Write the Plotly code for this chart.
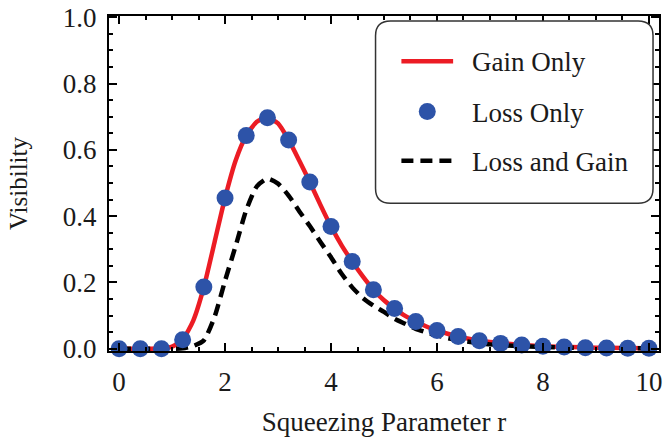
import plotly.graph_objects as go

# ---------------- data ----------------
r_curve = [0.0, 0.2, 0.4, 0.6, 0.8, 1.0, 1.2, 1.4, 1.6, 1.8, 2.0, 2.2, 2.4, 2.6, 2.8,
           3.0, 3.2, 3.4, 3.6, 3.8, 4.0, 4.2, 4.4, 4.6, 4.8, 5.0, 5.2, 5.4, 5.6, 5.8,
           6.0, 6.2, 6.4, 6.6, 6.8, 7.0, 7.5, 8.0, 8.5, 9.0, 9.5, 10.0]
gain_only = [0.0, 0.0, 0.0, 0.0, 0.001, 0.006, 0.027, 0.085, 0.186, 0.320, 0.455, 0.568,
             0.643, 0.685, 0.697, 0.680, 0.630, 0.568, 0.503, 0.434, 0.369, 0.312, 0.263,
             0.218, 0.178, 0.146, 0.121, 0.099, 0.082, 0.067, 0.055, 0.045, 0.037, 0.030,
             0.024, 0.020, 0.013, 0.007, 0.005, 0.003, 0.002, 0.001]
loss_and_gain = [0.0, 0.0, 0.0, 0.0, 0.0, 0.0, 0.001, 0.008, 0.025, 0.095, 0.205, 0.310,
                 0.418, 0.490, 0.513, 0.498, 0.462, 0.415, 0.370, 0.322, 0.276, 0.226,
                 0.185, 0.153, 0.130, 0.111, 0.090, 0.075, 0.060, 0.049, 0.040, 0.032,
                 0.026, 0.021, 0.017, 0.013, 0.008, 0.005, 0.003, 0.002, 0.001, 0.001]

r_dots = [0.0, 0.4, 0.8, 1.2, 1.6, 2.0, 2.4, 2.8, 3.2, 3.6, 4.0, 4.4, 4.8, 5.2, 5.6,
          6.0, 6.4, 6.8, 7.2, 7.6, 8.0, 8.4, 8.8, 9.2, 9.6, 10.0]
loss_only = [0.0, 0.0, 0.0, 0.027, 0.186, 0.455, 0.643, 0.697, 0.630, 0.503, 0.369, 0.263,
             0.178, 0.121, 0.082, 0.055, 0.037, 0.024, 0.016, 0.011, 0.007, 0.005, 0.003,
             0.002, 0.001, 0.001]

series_names = ["Gain Only", "Loss Only", "Loss and Gain"]
x_ticks = [0, 2, 4, 6, 8, 10]
y_ticks = [0.0, 0.2, 0.4, 0.6, 0.8, 1.0]
y_ticklabels = ["0.0", "0.2", "0.4", "0.6", "0.8", "1.0"]

# ---------------- styling ----------------
RED = "#EC1C24"
BLUE = "#2D53A8"
FONT = "Liberation Serif, Times New Roman, serif"
TXT = "#1a1a1a"

W, H = 665, 442
ML, MR, MT, MB = 109, 3, 11, 91
PW, PH = W - ML - MR, H - MT - MB


def px(x):
    return (x - ML) / PW


def py(y):
    return (H - MB - y) / PH


fig = go.Figure()
fig.add_trace(go.Scatter(x=r_curve, y=gain_only, mode="lines", name=series_names[0],
                         line=dict(color=RED, width=4.5, shape="spline", smoothing=0.6),
                         showlegend=False))
fig.add_trace(go.Scatter(x=r_curve, y=loss_and_gain, mode="lines", name=series_names[2],
                         line=dict(color="black", width=4.5, dash="12px,7px",
                                   shape="spline", smoothing=0.6),
                         showlegend=False))
fig.add_trace(go.Scatter(x=r_dots, y=loss_only, mode="markers", name=series_names[1],
                         marker=dict(color=BLUE, size=17, line=dict(width=0)),
                         showlegend=False, cliponaxis=False))

axis_common = dict(showline=True, linecolor="black", linewidth=2, mirror="ticks",
                   ticks="inside", ticklen=8, tickwidth=2, tickcolor="black",
                   showgrid=False, zeroline=False, ticklabeloverflow="allow",
                   tickfont=dict(family=FONT, size=27, color=TXT))

fig.update_xaxes(range=[-0.19, 10.19], tickvals=x_ticks, ticktext=[str(v) for v in x_ticks],
                 minor=dict(dtick=0.5, tick0=0, ticks="inside", ticklen=4, tickwidth=1.5,
                            tickcolor="black", showgrid=False),
                 ticklabelstandoff=6,
                 title=dict(text="Squeezing Parameter r", font=dict(family=FONT, size=27, color=TXT),
                            standoff=16),
                 **axis_common)
fig.update_yaxes(range=[-0.007, 1.004], tickvals=y_ticks, ticktext=y_ticklabels,
                 minor=dict(dtick=0.05, tick0=0, ticks="inside", ticklen=4, tickwidth=1.5,
                            tickcolor="black", showgrid=False),
                 ticklabelstandoff=5,
                 title=dict(text="Visibility", font=dict(family=FONT, size=25, color=TXT),
                            standoff=28),
                 **axis_common)

# ---------------- legend (drawn as a rounded box) ----------------
bx0, bx1, by0, by1, rad = 377, 656, 16, 201, 15
X0, X1, Y0, Y1 = px(bx0), px(bx1), py(by0), py(by1)
rx, ry = rad / PW, rad / PH
path = (f"M {X0+rx},{Y0} L {X1-rx},{Y0} Q {X1},{Y0} {X1},{Y0-ry} "
        f"L {X1},{Y1+ry} Q {X1},{Y1} {X1-rx},{Y1} L {X0+rx},{Y1} "
        f"Q {X0},{Y1} {X0},{Y1+ry} L {X0},{Y0-ry} Q {X0},{Y0} {X0+rx},{Y0} Z")
shapes = [dict(type="path", path=path, xref="paper", yref="paper",
               line=dict(color="#333333", width=1.5), fillcolor="white", layer="above")]
rows = [57, 108, 158]
shapes.append(dict(type="line", xref="paper", yref="paper", x0=px(403), x1=px(455),
                   y0=py(rows[0]), y1=py(rows[0]), line=dict(color=RED, width=4.5), layer="above"))
shapes.append(dict(type="circle", xref="paper", yref="paper", xsizemode="pixel", ysizemode="pixel",
                   xanchor=px(429), yanchor=py(rows[1]), x0=-8.5, x1=8.5, y0=-8.5, y1=8.5,
                   fillcolor=BLUE, line=dict(width=0), layer="above"))
shapes.append(dict(type="line", xref="paper", yref="paper", x0=px(403), x1=px(455),
                   y0=py(rows[2]), y1=py(rows[2]),
                   line=dict(color="black", width=4.5, dash="12px,7px"), layer="above"))

annotations = []
for name, ry_ in zip(series_names, rows):
    annotations.append(dict(text=name, xref="paper", yref="paper", x=px(472), y=py(ry_ + 1),
                            xanchor="left", yanchor="middle", showarrow=False,
                            font=dict(family=FONT, size=27, color=TXT)))

fig.update_layout(width=W, height=H, margin=dict(l=ML, r=MR, t=MT, b=MB),
                  paper_bgcolor="white", plot_bgcolor="white",
                  shapes=shapes, annotations=annotations, showlegend=False)

fig.write_html("out.html")
